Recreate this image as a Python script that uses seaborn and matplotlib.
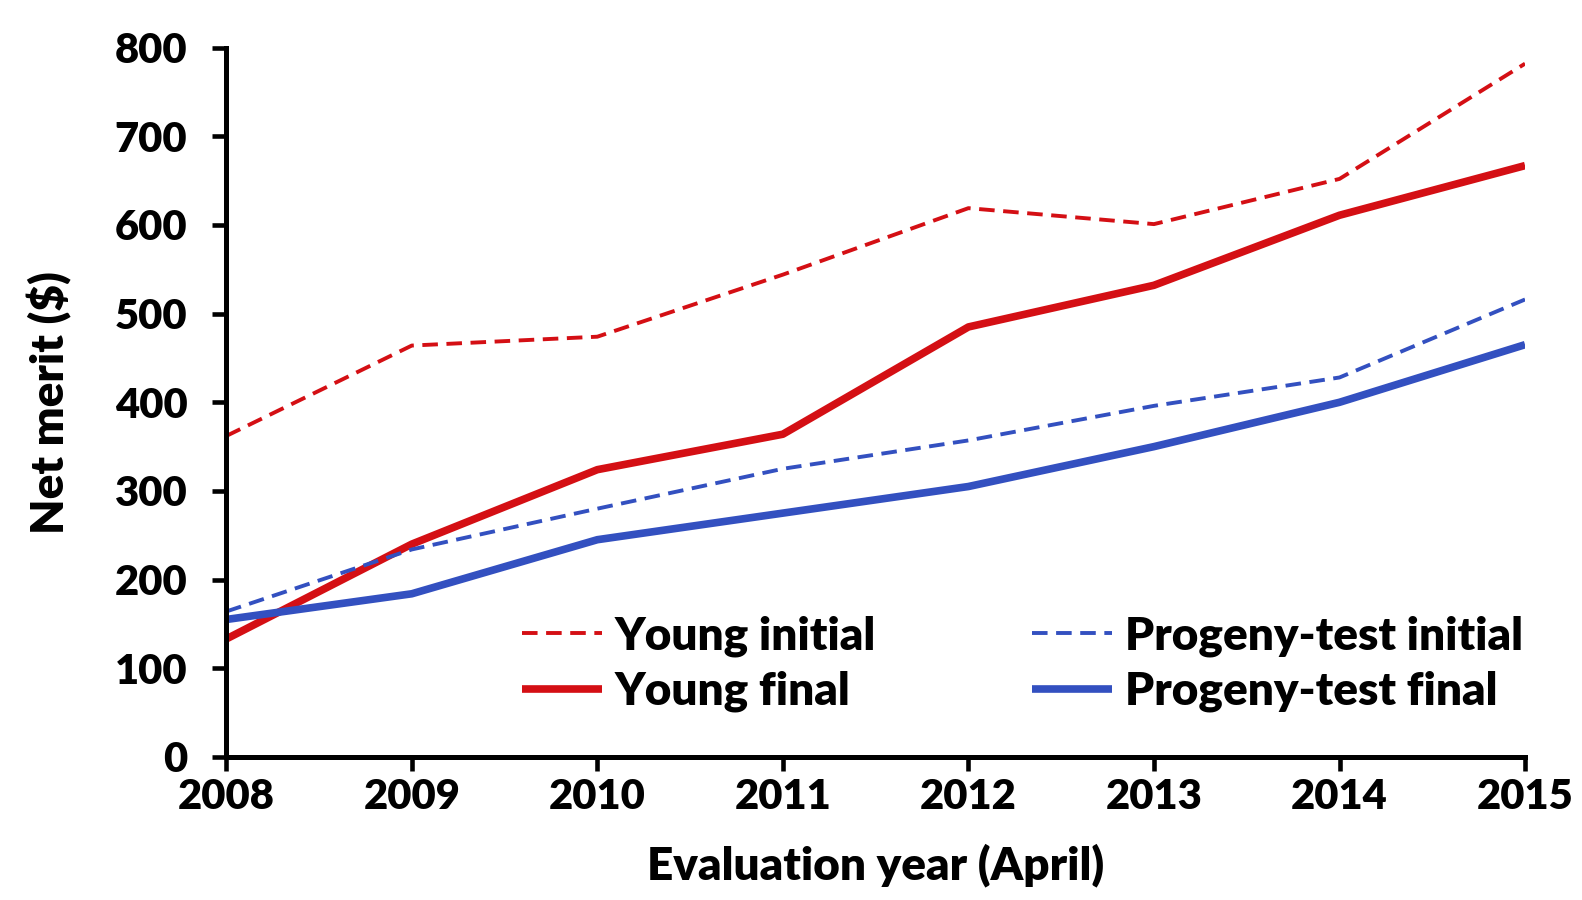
import numpy as np
import matplotlib
matplotlib.use("Agg")
import matplotlib.pyplot as plt
import seaborn as sns
import pandas as pd

sns.set_style("white")
plt.rcParams['font.family'] = ['Lato', 'DejaVu Sans']
plt.rcParams['font.weight'] = 'heavy'
plt.rc('text', color='black')
plt.rc('axes', labelcolor='black')
plt.rc('xtick', color='black')
plt.rc('ytick', color='black')

years = [2008, 2009, 2010, 2011, 2012, 2013, 2014, 2015]
young_initial = [362, 464, 474, 544, 619, 601, 652, 782]
young_final = [133, 240, 324, 364, 485, 532, 611, 667]
progeny_initial = [164, 234, 280, 325, 357, 396, 428, 516]
progeny_final = [155, 184, 245, 275, 305, 350, 400, 465]

red = "#d40f14"
blue = "#3350c0"

df = pd.DataFrame({
    "year": years * 4,
    "value": young_initial + young_final + progeny_initial + progeny_final,
    "series": (["Young initial"] * 8 + ["Young final"] * 8
               + ["Progeny-test initial"] * 8 + ["Progeny-test final"] * 8),
})

fig = plt.figure(figsize=(15.82, 9), dpi=100)
ax = fig.add_axes([0.143, 0.159, 0.821, 0.788])

styles = {
    "Young initial": (red, (0, (4, 2.2)), 2.8),
    "Young final": (red, "-", 5.5),
    "Progeny-test initial": (blue, (0, (4, 2.2)), 2.8),
    "Progeny-test final": (blue, "-", 5.5),
}
for name, (c, ls, lw) in styles.items():
    sub = df[df["series"] == name]
    sns.lineplot(data=sub, x="year", y="value", ax=ax, color=c, linestyle=ls,
                 linewidth=lw, label=name, solid_capstyle="butt")

ax.set_xlim(2008, 2015)
ax.set_ylim(0, 800)
ax.set_yticks(np.arange(0, 801, 100))
ax.set_xticks(years)
for s in ["top", "right"]:
    ax.spines[s].set_visible(False)
for s in ["left", "bottom"]:
    ax.spines[s].set_linewidth(3.6)
    ax.spines[s].set_color("black")
ax.tick_params(axis="both", direction="out", length=10, width=3.3, color="black",
               labelcolor="black", labelsize=30, left=True, bottom=True)
ax.tick_params(axis="y", pad=18)
ax.tick_params(axis="x", pad=5)
for lab in ax.get_xticklabels() + ax.get_yticklabels():
    lab.set_fontweight("heavy")
ax.set_xlabel("Evaluation year (April)", fontsize=33, fontweight="heavy", labelpad=20)
ax.set_ylabel("Net merit ($)", fontsize=33, fontweight="heavy", labelpad=31)

handles, labels = ax.get_legend_handles_labels()
leg = ax.legend(handles, labels,
                ncol=2, frameon=False, loc="lower right", bbox_to_anchor=(1.03, 0.005),
                fontsize=33, handlelength=1.76, columnspacing=3.4, labelspacing=0.3,
                handletextpad=0.27)
for t in leg.get_texts():
    t.set_fontweight("heavy")
    t.set_color("black")

fig.savefig("out.png", dpi=100)
